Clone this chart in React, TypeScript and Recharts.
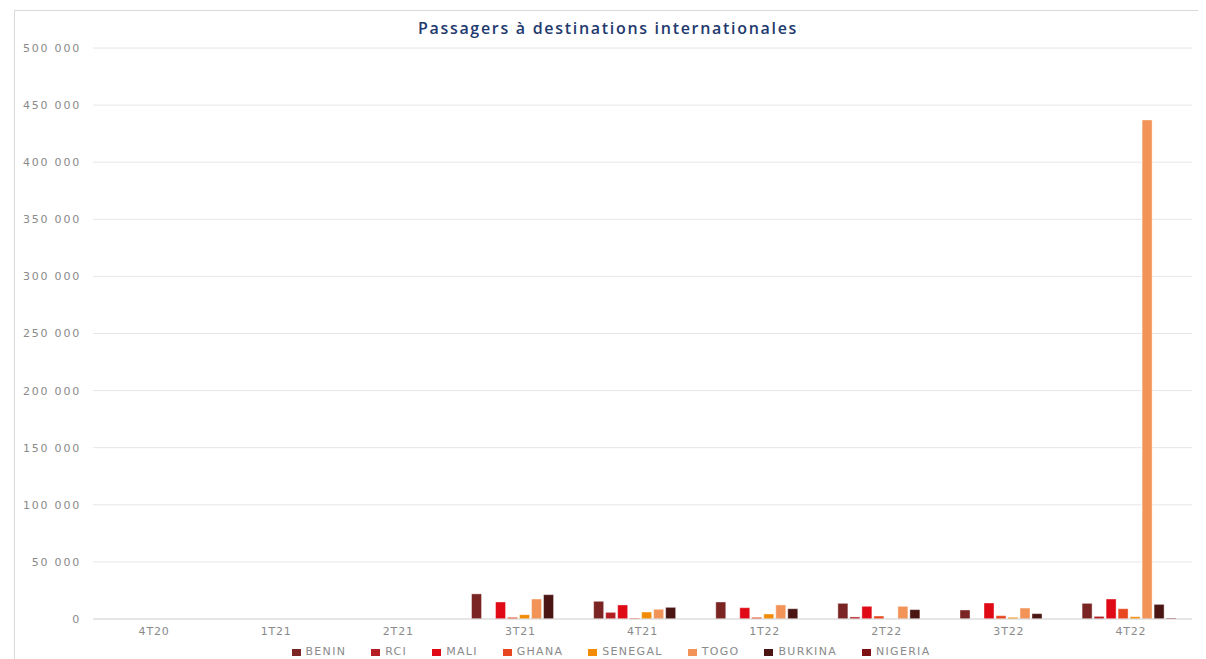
import React from "react";
import {
  BarChart,
  Bar,
  XAxis,
  YAxis,
  CartesianGrid,
  Legend,
} from "recharts";

const quarters = ["4T20", "1T21", "2T21", "3T21", "4T21", "1T22", "2T22", "3T22", "4T22"];

const benin = [0, 0, 0, 22000, 15500, 14900, 13700, 7900, 13700];
const rci = [0, 0, 0, 0, 5800, 0, 1800, 0, 2300];
const mali = [0, 0, 0, 14900, 12300, 9900, 11100, 14000, 17500];
const ghana = [0, 0, 0, 1500, 900, 1500, 2600, 2900, 9000];
const senegal = [0, 0, 0, 3800, 6100, 4400, 0, 1500, 2000];
const togo = [0, 0, 0, 17500, 8500, 12300, 11100, 9600, 437000];
const burkina = [0, 0, 0, 21300, 10200, 9000, 8200, 4700, 12800];
const nigeria = [0, 0, 0, 0, 0, 0, 0, 0, 900];

const yTicks = [0, 50000, 100000, 150000, 200000, 250000, 300000, 350000, 400000, 450000, 500000];

const series = [
  { key: "BENIN", values: benin, color: "#7a2424" },
  { key: "RCI", values: rci, color: "#b41e22" },
  { key: "MALI", values: mali, color: "#e00a16" },
  { key: "GHANA", values: ghana, color: "#e8461e" },
  { key: "SENEGAL", values: senegal, color: "#f28c06" },
  { key: "TOGO", values: togo, color: "#f29458" },
  { key: "BURKINA", values: burkina, color: "#4a1512" },
  { key: "NIGERIA", values: nigeria, color: "#7e1014" },
];

const data = quarters.map((q, i) => {
  const row: Record<string, string | number> = { quarter: q };
  series.forEach((s) => {
    row[s.key] = s.values[i];
  });
  return row;
});

const fmt = (v: number) => String(v).replace(/\B(?=(\d{3})+(?!\d))/g, " ");

const font = "'DejaVu Sans', sans-serif";

function SeriesLegend() {
  return (
    <div
      style={{
        display: "flex",
        justifyContent: "center",
        paddingTop: 4,
        paddingLeft: 40,
        fontFamily: font,
        fontSize: 11,
        letterSpacing: 1.3,
        color: "#8a8a8a",
        lineHeight: "14px",
      }}
    >
      {series.map((s) => (
        <span
          key={s.key}
          style={{ display: "inline-flex", alignItems: "center", marginRight: 25 }}
        >
          <span
            style={{
              display: "inline-block",
              width: 9,
              height: 7,
              background: s.color,
              marginRight: 5,
            }}
          />
          {s.key}
        </span>
      ))}
    </div>
  );
}

export default function App() {
  return (
    <div
      style={{
        position: "relative",
        marginLeft: 6,
        marginTop: 2,
        width: 1186,
        height: 652,
        border: "1px solid #d9d9d9",
        background: "#fff",
      }}
    >
      <div
        style={{
          position: "absolute",
          top: 6,
          left: 0,
          width: "100%",
          textAlign: "center",
          fontFamily: "'Open Sans', sans-serif",
          fontWeight: 600,
          fontSize: 16,
          letterSpacing: 1.7,
          color: "#1f3a6e",
        }}
      >
        Passagers à destinations internationales
      </div>
      <BarChart
        width={1186}
        height={652}
        data={data}
        margin={{ top: 37, right: 9, left: 0, bottom: 0 }}
        barCategoryGap="10%"
        barGap={2}
      >
        <CartesianGrid vertical={false} stroke="#e6e6e6" />
        <XAxis
          dataKey="quarter"
          tickLine={false}
          axisLine={{ stroke: "#d9d9d9" }}
          height={22}
          tick={{ fontSize: 11, fill: "#8a8a8a", fontFamily: font, letterSpacing: 0.8 }}
        />
        <YAxis
          width={78}
          domain={[0, 500000]}
          ticks={yTicks}
          interval={0}
          tickLine={false}
          axisLine={false}
          tickFormatter={(v) => fmt(Number(v))}
          tick={{ fontSize: 11, fill: "#8a8a8a", fontFamily: font, letterSpacing: 1.8, dx: -4 }}
        />
        <Legend
          verticalAlign="bottom"
          content={() => <SeriesLegend />}
          wrapperStyle={{ height: 22 }}
        />
        {series.map((s) => (
          <Bar
            key={s.key}
            dataKey={s.key}
            fill={s.color}
            stroke="#ffffff"
            strokeOpacity={0.5}
            strokeWidth={0.8}
            isAnimationActive={false}
          />
        ))}
      </BarChart>
    </div>
  );
}
